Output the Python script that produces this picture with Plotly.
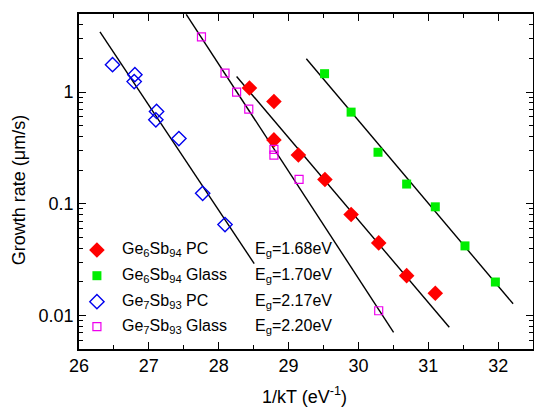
import plotly.graph_objects as go
import numpy as np

# ---- data ----
ge6_pc_x = [28.44, 28.79, 28.79, 29.14, 29.52, 29.895, 30.29, 30.69, 31.10]
ge6_pc_y = [1.087, 0.824, 0.373, 0.273, 0.165, 0.080, 0.0446, 0.0227, 0.0158]

ge6_gl_x = [29.515, 29.895, 30.28, 30.69, 31.10, 31.525, 31.96]
ge6_gl_y = [1.46, 0.661, 0.289, 0.150, 0.0938, 0.0419, 0.0199]

ge7_pc_x = [26.48, 26.80, 26.79, 27.11, 27.10, 27.43, 27.77, 28.09]
ge7_pc_y = [1.76, 1.43, 1.24, 0.67, 0.564, 0.383, 0.124, 0.065]

ge7_gl_x = [27.753, 28.09, 28.256, 28.43, 28.79, 28.79, 29.15, 30.29]
ge7_gl_y = [3.12, 1.48, 1.0, 0.703, 0.307, 0.272, 0.165, 0.011]

# Arrhenius fit lines (end points)
fit_ge6_pc_x = [28.256, 31.30]
fit_ge6_pc_y = [1.38, 0.00783]
fit_ge6_gl_x = [29.254, 32.214]
fit_ge6_gl_y = [1.99, 0.0127]
fit_ge7_pc_x = [26.30, 28.508]
fit_ge7_pc_y = [3.46, 0.0291]
fit_ge7_gl_x = [27.535, 30.503]
fit_ge7_gl_y = [4.95, 0.00706]

series_names = ["Ge<sub>6</sub>Sb<sub>94</sub> PC", "Ge<sub>6</sub>Sb<sub>94</sub> Glass",
                "Ge<sub>7</sub>Sb<sub>93</sub> PC", "Ge<sub>7</sub>Sb<sub>93</sub> Glass"]
eg_labels = ["E<sub>g</sub>=1.68eV", "E<sub>g</sub>=1.70eV", "E<sub>g</sub>=2.17eV", "E<sub>g</sub>=2.20eV"]

x_ticks = [26, 27, 28, 29, 30, 31, 32]
y_ticks = [0.01, 0.1, 1]
y_ticktext = ["0.01", "0.1", "1"]

# ---- styling ----
FONT = "Liberation Sans, Arial, sans-serif"
W, H = 535, 407          # 1 px wider than the window so the right frame line falls outside
L, T, B = 79, 14, 349
PR = W                   # right edge of the plot area

styles = [
    dict(symbol="diamond", color="#ff0000", size=12, line=dict(width=0)),
    dict(symbol="square", color="#00ee00", size=9, line=dict(width=0)),
    dict(symbol="diamond-open", color="#0000ee", size=11, line=dict(width=1.4, color="#0000ee")),
    dict(symbol="square-open", color="#ee00ee", size=8, line=dict(width=1.2, color="#ee00ee")),
]

fig = go.Figure()

for fx, fy in [(fit_ge6_pc_x, fit_ge6_pc_y), (fit_ge6_gl_x, fit_ge6_gl_y),
               (fit_ge7_pc_x, fit_ge7_pc_y), (fit_ge7_gl_x, fit_ge7_gl_y)]:
    fig.add_trace(go.Scatter(x=fx, y=fy, mode="lines", line=dict(color="black", width=1.4),
                             showlegend=False, hoverinfo="skip"))

for (sx, sy), st in zip([(ge6_pc_x, ge6_pc_y), (ge6_gl_x, ge6_gl_y),
                         (ge7_pc_x, ge7_pc_y), (ge7_gl_x, ge7_gl_y)], styles):
    fig.add_trace(go.Scatter(x=sx, y=sy, mode="markers", marker=st, showlegend=False))


# pixel -> paper fraction helpers
def px_x(p):
    return (p - L) / (PR - L)


def px_y(p):
    return (B - p) / (B - T)


leg_rows = [250, 275.7, 301.7, 326.7]
for row, st in zip(leg_rows, styles):
    fig.add_trace(go.Scatter(x=[px_x(97)], y=[px_y(row)], mode="markers", marker=st,
                             xaxis="x2", yaxis="y3", showlegend=False, hoverinfo="skip"))

for row, name, eg in zip(leg_rows, series_names, eg_labels):
    fig.add_annotation(x=px_x(120), y=px_y(row), xref="paper", yref="paper", text=name,
                       showarrow=False, xanchor="left", yanchor="middle",
                       font=dict(size=16, family=FONT, color="black"))
    fig.add_annotation(x=px_x(254), y=px_y(row), xref="paper", yref="paper", text=eg,
                       showarrow=False, xanchor="left", yanchor="middle",
                       font=dict(size=16, family=FONT, color="black"))

fig.add_annotation(x=px_x(305), y=px_y(395), xref="paper", yref="paper",
                   text="1/kT (eV<sup>-1</sup>)", showarrow=False, xanchor="center",
                   yanchor="middle", font=dict(size=18, family=FONT, color="black"))
fig.add_annotation(x=px_x(19), y=px_y(190), xref="paper", yref="paper",
                   text="Growth rate (μm/s)", showarrow=False, textangle=-90,
                   xanchor="center", yanchor="middle", font=dict(size=18, family=FONT, color="black"))

minor_y = [m * 10.0 ** e for e in (-3, -2, -1, 0) for m in range(2, 10)]
minor_y = [v for v in minor_y if 0.005 <= v <= 5]

fig.update_layout(
    width=W, height=H,
    margin=dict(l=L, r=0, t=T, b=H - B, pad=0),
    paper_bgcolor="white", plot_bgcolor="white",
    font=dict(family=FONT, size=18, color="black"),
    xaxis=dict(range=[26, 26 + (PR - L) / 70.17], tickmode="array", tickvals=x_ticks,
               ticks="inside", ticklen=7, tickwidth=1.2, tickcolor="black",
               showline=True, linecolor="black", linewidth=1.6, mirror="ticks",
               showgrid=False, zeroline=False, tickfont=dict(size=18),
               minor=dict(dtick=0.5, tick0=26, ticks="inside", ticklen=4, tickwidth=1.2,
                          tickcolor="black", showgrid=False)),
    yaxis=dict(type="log", range=[np.log10(0.005), np.log10(5)], tickmode="array",
               tickvals=y_ticks, ticktext=y_ticktext,
               ticks="inside", ticklen=7, tickwidth=1.2, tickcolor="black",
               showline=True, linecolor="black", linewidth=1.6, mirror="ticks",
               showgrid=False, zeroline=False, tickfont=dict(size=18),
               minor=dict(tickmode="array", tickvals=minor_y, ticks="inside", ticklen=4,
                          tickwidth=1.2, tickcolor="black", showgrid=False)),
    xaxis2=dict(range=[0, 1], overlaying="x", visible=False, anchor="y3"),
    yaxis3=dict(range=[0, 1], overlaying="y", visible=False, anchor="x2"),
)

fig.write_html(
    "out.html",
    config={"displayModeBar": False},
    post_script="document.body.style.margin='0';document.body.style.overflow='hidden';",
)
